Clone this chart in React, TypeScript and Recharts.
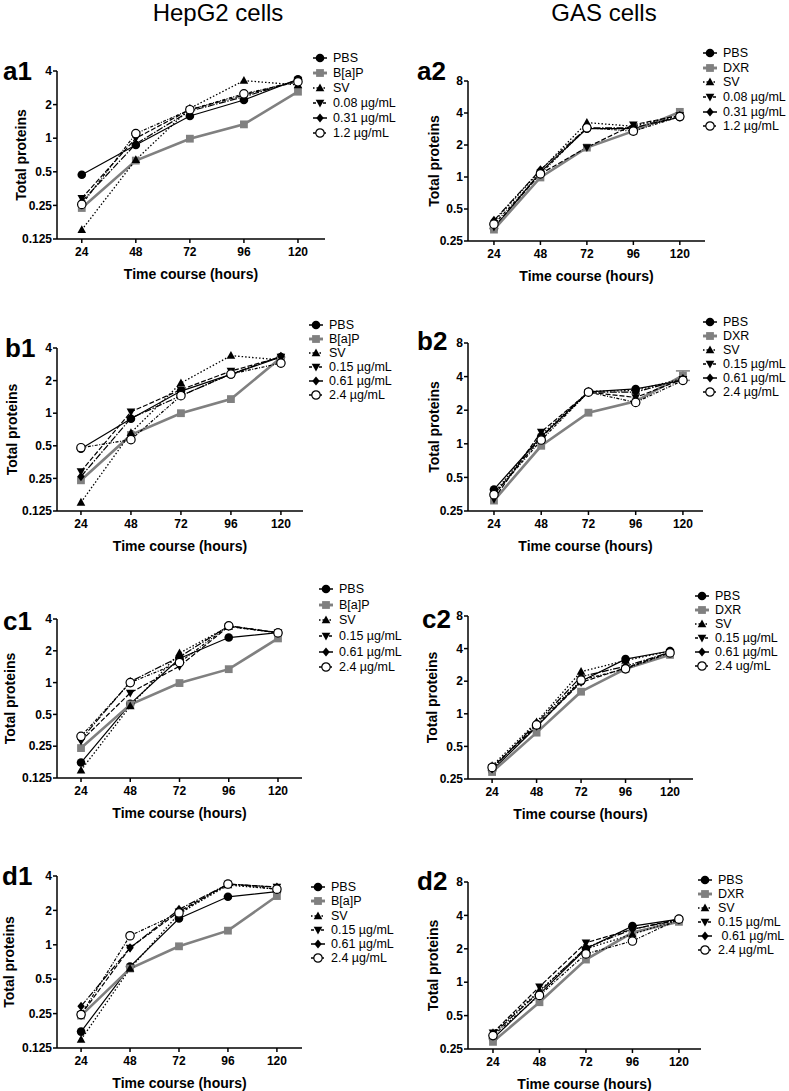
import React from "react";
import { LineChart, Line, XAxis, YAxis, Legend, ErrorBar } from "recharts";

const FONT = "'Liberation Sans', Arial, Helvetica, sans-serif";

const hours = [24, 48, 72, 96, 120];
const hepTicks = [0.125, 0.25, 0.5, 1, 2, 4];
const gasTicks = [0.25, 0.5, 1, 2, 4, 8];

// legend names
const a1Names = ["PBS", "B[a]P", "SV", "0.08 µg/mL", "0.31 µg/mL", "1.2 µg/mL"];
const a2Names = ["PBS", "DXR", "SV", "0.08 µg/mL", "0.31 µg/mL", "1.2 µg/mL"];
const b1Names = ["PBS", "B[a]P", "SV", "0.15 µg/mL", "0.61 µg/mL", "2.4 µg/mL"];
const b2Names = ["PBS", "DXR", "SV", "0.15 µg/mL", "0.61 µg/mL", "2.4 µg/mL"];
const c1Names = ["PBS", "B[a]P", "SV", "0.15 µg/mL", "0.61 µg/mL", "2.4 µg/mL"];
const c2Names = ["PBS", "DXR", "SV", "0.15 µg/mL", "0.61 µg/mL", "2.4 ug/mL"];
const d1Names = ["PBS", "B[a]P", "SV", "0.15 µg/mL", "0.61 µg/mL", "2.4 µg/mL"];
const d2Names = ["PBS", "DXR", "SV", "0.15 µg/mL", " 0.61 µg/mL", "2.4 µg/mL"];

// values per series, order: PBS, B[a]P/DXR, SV, low, mid, high
const a1Values = [
  [0.47, 0.87, 1.58, 2.2, 3.37],
  [0.237, 0.63, 0.99, 1.33, 2.61],
  [0.151, 0.64, 1.85, 3.28, 3.0],
  [0.29, 1.0, 1.8, 2.43, 3.3],
  [0.27, 0.89, 1.75, 2.35, 3.3],
  [0.255, 1.1, 1.8, 2.5, 3.2],
];
const a2Values = [
  [0.33, 1.11, 2.85, 2.85, 3.67],
  [0.32, 0.99, 1.89, 2.7, 4.1],
  [0.38, 1.15, 3.25, 3.0, 3.8],
  [0.34, 1.07, 1.9, 3.1, 3.8],
  [0.39, 1.17, 2.9, 2.9, 3.7],
  [0.36, 1.07, 2.9, 2.7, 3.7],
];
const b1Values = [
  [0.47, 0.89, 1.6, 2.28, 3.3],
  [0.24, 0.63, 1.0, 1.35, 3.25],
  [0.15, 0.66, 1.9, 3.4, 3.1],
  [0.29, 1.03, 1.65, 2.45, 3.3],
  [0.26, 0.9, 1.45, 2.3, 3.35],
  [0.48, 0.57, 1.45, 2.3, 2.9],
];
const b2Values = [
  [0.39, 1.16, 2.92, 3.1, 3.7],
  [0.31, 0.96, 1.9, 2.4, 4.1],
  [0.36, 1.2, 2.95, 3.0, 3.85],
  [0.32, 1.28, 2.9, 2.6, 3.8],
  [0.35, 1.14, 2.9, 2.9, 3.8],
  [0.35, 1.08, 2.9, 2.35, 3.7],
];
const b2DxrErr = [0, 0, 0, 0, 0.4];
const c1Values = [
  [0.175, 0.63, 1.69, 2.67, 2.97],
  [0.24, 0.62, 0.99, 1.34, 2.62],
  [0.148, 0.6, 1.9, 3.4, 2.97],
  [0.28, 0.8, 1.43, 3.4, 2.97],
  [0.29, 1.02, 1.75, 3.45, 2.97],
  [0.31, 1.0, 1.55, 3.45, 2.95],
];
const c2Values = [
  [0.3, 0.76, 2.0, 3.2, 3.8],
  [0.29, 0.67, 1.6, 2.6, 3.5],
  [0.33, 0.84, 2.45, 3.1, 3.8],
  [0.32, 0.77, 1.95, 2.65, 3.7],
  [0.31, 0.82, 2.2, 2.75, 3.7],
  [0.32, 0.79, 2.05, 2.6, 3.65],
];
const d1Values = [
  [0.174, 0.645, 1.7, 2.63, 2.92],
  [0.24, 0.62, 0.97, 1.33, 2.67],
  [0.148, 0.62, 1.87, 3.33, 3.07],
  [0.245, 0.94, 1.95, 3.4, 3.2],
  [0.29, 0.94, 2.04, 3.4, 3.2],
  [0.245, 1.2, 1.9, 3.4, 3.07],
];
const d2Values = [
  [0.31, 0.78, 2.0, 3.2, 3.7],
  [0.29, 0.66, 1.6, 2.8, 3.5],
  [0.35, 0.84, 2.0, 2.7, 3.7],
  [0.35, 0.91, 2.27, 3.0, 3.7],
  [0.34, 0.82, 2.05, 3.0, 3.65],
  [0.33, 0.76, 1.8, 2.35, 3.7],
];

type Shape = "circle" | "square" | "up" | "down" | "diamond" | "open";

const seriesStyle: { shape: Shape; color: string; width: number; dash?: string; legDash?: string }[] = [
  { shape: "circle", color: "#000", width: 1.2 },
  { shape: "square", color: "#808080", width: 2.6 },
  { shape: "up", color: "#000", width: 1.3, dash: "1.5 2", legDash: "1.5 2" },
  { shape: "down", color: "#000", width: 1.2, dash: "5 2", legDash: "3 2" },
  { shape: "diamond", color: "#000", width: 1.2, dash: "7 1.5 1.5 1.5" },
  { shape: "open", color: "#000", width: 1.2, dash: "3 1.5 1 1.5", legDash: "3 2" },
];

function Marker({ shape, cx, cy, color }: { shape: Shape; cx: number; cy: number; color: string }) {
  if (cx == null || cy == null) return null;
  switch (shape) {
    case "circle":
      return <circle cx={cx} cy={cy} r={4.3} fill="#000" />;
    case "square":
      return <rect x={cx - 3.9} y={cy - 3.9} width={7.8} height={7.8} fill={color} />;
    case "up":
      return <path d={`M${cx},${cy - 4.6}L${cx + 4.3},${cy + 3.2}L${cx - 4.3},${cy + 3.2}Z`} fill="#000" />;
    case "down":
      return <path d={`M${cx},${cy + 4.6}L${cx + 4.3},${cy - 3.2}L${cx - 4.3},${cy - 3.2}Z`} fill="#000" />;
    case "diamond":
      return <path d={`M${cx},${cy - 4.6}L${cx + 3.7},${cy}L${cx},${cy + 4.6}L${cx - 3.7},${cy}Z`} fill="#000" />;
    default:
      return <circle cx={cx} cy={cy} r={4.2} fill="#fff" stroke="#000" strokeWidth={1.2} />;
  }
}

type PanelCfg = {
  names: string[];
  values: number[][];
  ticks: number[];
  err?: number[];
  x0: number; x1: number; y0: number; y1: number;
  xDomain: [number, number];
  yLabX: number;
  legX: number; legY: number; rowH: number;
};

const panels: PanelCfg[] = [
  { names: a1Names, values: a1Values, ticks: hepTicks, x0: 57, x1: 325, y0: 71, y1: 239, xDomain: [13, 132], yLabX: 21, legX: 320, legY: 58, rowH: 15 },
  { names: a2Names, values: a2Values, ticks: gasTicks, x0: 468, x1: 705, y0: 81, y1: 241, xDomain: [10.6, 133], yLabX: 434, legX: 710, legY: 53, rowH: 14.7 },
  { names: b1Names, values: b1Values, ticks: hepTicks, x0: 57, x1: 303, y0: 348, y1: 511, xDomain: [12.5, 130.6], yLabX: 12, legX: 316, legY: 325, rowH: 14 },
  { names: b2Names, values: b2Values, ticks: gasTicks, err: b2DxrErr, x0: 468, x1: 703, y0: 343, y1: 511, xDomain: [10.8, 130.2], yLabX: 434, legX: 710, legY: 322, rowH: 14 },
  { names: c1Names, values: c1Values, ticks: hepTicks, x0: 57, x1: 302, y0: 619, y1: 778, xDomain: [12.3, 131.7], yLabX: 10, legX: 326, legY: 589, rowH: 15.7 },
  { names: c2Names, values: c2Values, ticks: gasTicks, x0: 468, x1: 693, y0: 616, y1: 779, xDomain: [11, 132.4], yLabX: 432, legX: 702, legY: 596, rowH: 14 },
  { names: d1Names, values: d1Values, ticks: hepTicks, x0: 57, x1: 302, y0: 876, y1: 1048, xDomain: [12.2, 132.3], yLabX: 9, legX: 318, legY: 887, rowH: 14.3 },
  { names: d2Names, values: d2Values, ticks: gasTicks, x0: 468, x1: 701, y0: 882, y1: 1049, xDomain: [11.1, 131.4], yLabX: 433, legX: 705, legY: 880, rowH: 14.1 },
];

const panelLabels = [
  { t: "a1", x: 3, y: 80 },
  { t: "a2", x: 417, y: 80 },
  { t: "b1", x: 5, y: 357 },
  { t: "b2", x: 417, y: 350 },
  { t: "c1", x: 3, y: 630 },
  { t: "c2", x: 422, y: 628 },
  { t: "d1", x: 2, y: 885 },
  { t: "d2", x: 417, y: 890 },
];

// legend rows built from the series definitions, in series order
const makeLegend = (names: string[], rowH: number) => () => (
  <div style={{ fontFamily: FONT, fontSize: 12.5, color: "#000" }}>
    {names.map((name, k) => {
      const st = seriesStyle[k];
      return (
        <div key={k} style={{ display: "flex", alignItems: "center", height: rowH, whiteSpace: "pre" }}>
          <svg width={16} height={12} style={{ marginRight: 5, overflow: "visible", flex: "none" }}>
            <line x1={1} y1={6} x2={15} y2={6} stroke={st.color} strokeWidth={st.width + 0.3} strokeDasharray={st.legDash} />
            <Marker shape={st.shape} cx={8} cy={6} color={st.color} />
          </svg>
          <span>{name}</span>
        </div>
      );
    })}
  </div>
);

function Panel({ p }: { p: PanelCfg }) {
  const yW = 60;
  const top = 12;
  const xH = 46;
  const right = 120;
  const width = p.x1 - p.x0 + yW + right;
  const height = p.y1 - p.y0 + top + xH;
  const left = p.x0 - yW;
  const chartTop = p.y0 - top;
  const data = hours.map((h, i) => {
    const row: any = { h };
    p.values.forEach((v, k) => {
      row[`s${k}`] = v[i];
    });
    if (p.err) row.err = p.err[i];
    return row;
  });
  const tickStyle = { fontSize: 12, fontWeight: 700, fill: "#000", fontFamily: FONT };
  return (
    <div style={{ position: "absolute", left, top: chartTop }}>
      <LineChart width={width} height={height} data={data} margin={{ top, right, bottom: 0, left: 0 }}>
        <XAxis
          type="number"
          dataKey="h"
          domain={p.xDomain}
          ticks={hours}
          interval={0}
          height={xH}
          tick={tickStyle}
          tickSize={4}
          tickMargin={4}
          axisLine={{ stroke: "#000", strokeWidth: 1.5 }}
          tickLine={{ stroke: "#000", strokeWidth: 1.5 }}
          label={{ value: "Time course (hours)", position: "insideBottom", offset: 6, fontSize: 14, fontWeight: 700, fill: "#000", fontFamily: FONT }}
        />
        <YAxis
          scale="log"
          domain={[p.ticks[0], p.ticks[p.ticks.length - 1]]}
          ticks={p.ticks}
          interval={0}
          width={yW}
          tick={tickStyle}
          tickSize={4}
          tickMargin={1}
          axisLine={{ stroke: "#000", strokeWidth: 1.5 }}
          tickLine={{ stroke: "#000", strokeWidth: 1.5 }}
          label={{
            value: "Total proteins",
            angle: -90,
            position: "insideLeft",
            offset: p.yLabX - left,
            fontSize: 14,
            fontWeight: 700,
            fill: "#000",
            fontFamily: FONT,
            style: { textAnchor: "middle" },
          }}
        />
        {p.names.map((n, k) => {
          const st = seriesStyle[k];
          return (
            <Line
              key={k}
              dataKey={`s${k}`}
              name={n}
              stroke={st.color}
              strokeWidth={st.width}
              strokeDasharray={st.dash}
              isAnimationActive={false}
              dot={(d: any) => <Marker key={`m${k}-${d.index}`} shape={st.shape} cx={d.cx} cy={d.cy} color={st.color} />}
              activeDot={false}
            >
              {k === 1 && p.err ? <ErrorBar dataKey="err" width={7} stroke="#808080" strokeWidth={1.5} direction="y" /> : null}
            </Line>
          );
        })}
        <Legend
          layout="vertical"
          align="center"
          verticalAlign="middle"
          content={makeLegend(p.names, p.rowH)}
          wrapperStyle={{ left: p.legX - 8 - left, top: p.legY - p.rowH / 2 - chartTop, width: 100 }}
        />
      </LineChart>
    </div>
  );
}

export default function App() {
  return (
    <div style={{ position: "absolute", left: 0, top: 0, width: 789, height: 1091, background: "#fff", overflow: "hidden" }}>
      {panels.map((p, i) => (
        <Panel key={i} p={p} />
      ))}
      <svg width={789} height={1091} style={{ position: "absolute", left: 0, top: 0, pointerEvents: "none" }}>
        <text x={218} y={21} textAnchor="middle" fontFamily={FONT} fontSize={24} fill="#000">HepG2 cells</text>
        <text x={604} y={21} textAnchor="middle" fontFamily={FONT} fontSize={24} fill="#000">GAS cells</text>
        {panelLabels.map((l) => (
          <text key={l.t} x={l.x} y={l.y} fontFamily={FONT} fontSize={26} fontWeight={700} fill="#000">
            {l.t}
          </text>
        ))}
      </svg>
    </div>
  );
}
